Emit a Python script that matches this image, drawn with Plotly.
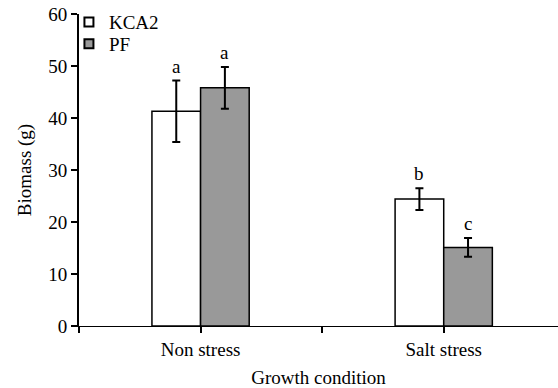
import plotly.graph_objects as go

categories = ["Non stress", "Salt stress"]
kca2 = [41.3, 24.4]
kca2_err = [5.9, 2.1]
pf = [45.8, 15.1]
pf_err = [4.0, 1.8]
kca2_letters = ["a", "b"]
pf_letters = ["a", "c"]

font = "Liberation Serif, Times New Roman, serif"
fs = 19
fig = go.Figure()
fig.add_trace(go.Bar(name="KCA2", x=categories, y=kca2, offsetgroup=0, showlegend=False,
                     marker=dict(color="white", line=dict(color="black", width=1.5)),
                     error_y=dict(type="data", array=kca2_err, color="black", thickness=2, width=4)))
fig.add_trace(go.Bar(name="PF", x=categories, y=pf, offsetgroup=1, showlegend=False,
                     marker=dict(color="#999999", line=dict(color="black", width=1.5)),
                     error_y=dict(type="data", array=pf_err, color="black", thickness=2, width=4)))
# legend entries with small square swatches
fig.add_trace(go.Scatter(name="KCA2", x=[None], y=[None], mode="markers", legend="legend",
                         marker=dict(symbol="square", size=9, color="white", line=dict(color="black", width=2))))
fig.add_trace(go.Scatter(name="PF", x=[None], y=[None], mode="markers", legend="legend2",
                         marker=dict(symbol="square", size=9, color="#999999", line=dict(color="black", width=2))))

for i, c in enumerate(categories):
    fig.add_annotation(x=i - 0.1, y=kca2[i] + kca2_err[i], text=kca2_letters[i], showarrow=False,
                       yanchor="bottom", yshift=2, font=dict(size=fs, family=font, color="black"))
    fig.add_annotation(x=i + 0.1, y=pf[i] + pf_err[i], text=pf_letters[i], showarrow=False,
                       yanchor="bottom", yshift=2, font=dict(size=fs, family=font, color="black"))

leg_common = dict(xanchor="left", yanchor="middle", bgcolor="rgba(0,0,0,0)",
                  font=dict(size=fs), itemwidth=30)
fig.update_layout(
    width=558, height=388,
    margin=dict(l=79, r=0, t=14, b=62),
    plot_bgcolor="white", paper_bgcolor="white",
    barmode="group", bargap=0.6, bargroupgap=0,
    font=dict(family=font, size=fs, color="black"),
    showlegend=True,
    legend=dict(x=-0.021, y=0.974, **leg_common),
    legend2=dict(x=-0.021, y=0.904, **leg_common),
    xaxis=dict(title=dict(text="Growth condition", standoff=11, font=dict(size=fs)), range=[-0.5, 1.47],
               automargin=False,
               showline=True, linecolor="black", linewidth=1,
               ticks="outside", ticklen=6, tickcolor="black", tickwidth=1.5,
               tickfont=dict(size=fs),
               tickvals=[-0.5, 0, 0.5, 1], ticktext=["", "Non stress", "", "Salt stress"]),
    yaxis=dict(title=dict(text="Biomass (g)", standoff=12, font=dict(size=fs)), range=[0, 60], dtick=10,
               automargin=False, tickfont=dict(size=fs),
               showline=True, linecolor="black", linewidth=2, showgrid=False,
               ticks="outside", ticklen=6, tickcolor="black", tickwidth=2, zeroline=False),
)
fig.write_html("out.html", config={"displayModeBar": False},
               post_script="document.body.style.margin='0';")
